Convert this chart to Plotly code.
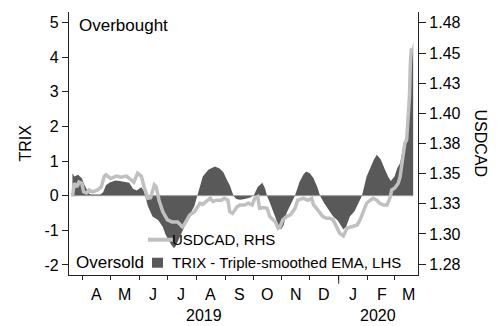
import pandas as pd
import plotly.graph_objects as go

# ---- data (days since 2019-04-01) ----
trix_days = [-11, -9, -5, -1, 2, 5, 7, 10, 19, 22, 25, 29, 35, 40, 45, 50, 54, 58, 63, 66,
             68, 70, 75, 81, 86, 89, 95, 98, 100, 105, 110, 115, 120, 123, 126, 129, 135, 139,
             142, 147, 151, 155, 158, 162, 165, 169, 174, 180, 184, 188, 193, 196, 198, 201,
             205, 210, 213, 216, 219, 224, 228, 233, 237, 240, 244, 248, 252, 255, 259, 264,
             269, 274, 280, 283, 287, 292, 296, 300, 305, 309, 313, 316, 320, 324, 328, 331,
             335, 338, 341, 344, 346, 348, 350, 352, 353, 355]
trix_vals = [0.65, 0.55, 0.6, 0.5, 0.3, 0.15, 0.05, 0.03, 0.03, 0.1, 0.3, 0.38, 0.44, 0.42, 0.4, 0.37,
             0.2, 0.15, 0.24, 0.12,
             -0.1, -0.3, -0.6, -0.7, -0.9, -1.12, -1.41, -1.52, -1.45, -1.15, -0.84, -0.55, -0.3,
             0.0, 0.3, 0.55, 0.75, 0.8, 0.84, 0.78, 0.68, 0.45, 0.3, 0.0, -0.1, -0.12, -0.1,
             -0.05, 0.02, 0.25, 0.37, 0.2, 0.0, -0.2, -0.5, -0.84, -0.98, -0.85, -0.5, -0.2,
             0.0, 0.4, 0.6, 0.7, 0.65, 0.5, 0.25, 0.0, -0.2, -0.4, -0.6, -0.72, -0.98, -0.9,
             -0.6, -0.45, -0.2, 0.0, 0.55, 0.8, 1.05, 1.18, 1.05, 0.8, 0.55, 0.42, 0.55, 0.8,
             0.94, 1.37, 1.61, 1.75, 2.1, 2.86, 3.82, 4.45]

usd_days = [-11, -9, -6, -4, -1, 1, 4, 7, 11, 16, 20, 23, 25, 30, 36, 41, 47, 52, 55, 59, 63,
            66, 70, 73, 77, 79, 82, 86, 91, 96, 102, 107, 109, 112, 115, 120, 126, 129, 134,
            137, 140, 144, 149, 152, 156, 158, 161, 166, 169, 174, 178, 182, 185, 188, 190,
            194, 198, 201, 207, 210, 212, 215, 219, 223, 228, 231, 237, 242, 246, 248, 251,
            255, 258, 262, 266, 269, 273, 276, 280, 284, 289, 295, 298, 301, 305, 309, 312,
            316, 319, 323, 327, 330, 332, 335, 339, 341, 343, 344, 346, 348, 349, 350, 351,
            352, 353, 354]
usd_vals = [1.331, 1.342, 1.339, 1.343, 1.342, 1.335, 1.334, 1.3365, 1.335, 1.3365, 1.339,
            1.3475, 1.349, 1.346, 1.348, 1.347, 1.348, 1.345, 1.343, 1.3503, 1.348, 1.339,
            1.3296, 1.330, 1.3406, 1.339, 1.328, 1.3185, 1.3117, 1.310, 1.310, 1.306, 1.3075,
            1.3117, 1.3158, 1.3185, 1.3255, 1.3245, 1.328, 1.3296, 1.327, 1.328, 1.328,
            1.3296, 1.328, 1.3185, 1.317, 1.3227, 1.324, 1.324, 1.3255, 1.324, 1.3296, 1.331,
            1.3214, 1.322, 1.3214, 1.3144, 1.310, 1.3048, 1.306, 1.3117, 1.3144, 1.3158,
            1.321, 1.328, 1.3296, 1.328, 1.3296, 1.324, 1.3214, 1.317, 1.3144, 1.313, 1.313,
            1.3117, 1.306, 1.3007, 1.2984, 1.3048, 1.306, 1.3075, 1.3117, 1.3185, 1.3255,
            1.328, 1.3296, 1.328, 1.3255, 1.324, 1.324, 1.3296, 1.3365, 1.3379, 1.342,
            1.3475, 1.3586, 1.364, 1.375, 1.378, 1.3917, 1.397, 1.4137, 1.4414, 1.4524, 1.4524]

month_letters = ["A", "M", "J", "J", "A", "S", "O", "N", "D", "J", "F", "M"]
month_starts = pd.date_range("2019-04-01", "2020-03-01", freq="MS")
left_ticks = [-2, -1, 0, 1, 2, 3, 4, 5]
right_ticks = [1.275, 1.300, 1.325, 1.350, 1.375, 1.400, 1.425, 1.450, 1.475]
right_text = ["1.28", "1.30", "1.33", "1.35", "1.38", "1.40", "1.43", "1.45", "1.48"]

base = pd.Timestamp("2019-04-01")
trix_x = [base + pd.Timedelta(days=d) for d in trix_days]
usd_x = [base + pd.Timedelta(days=d) for d in usd_days]

FONT = "Liberation Sans, Arial, sans-serif"
AREA = "#595959"
LINE = "#c0c0c0"
INK = "#000000"

fig = go.Figure()
fig.add_trace(go.Scatter(x=trix_x, y=trix_vals, mode="lines", fill="tozeroy",
                         fillcolor=AREA, line=dict(width=0, color=AREA),
                         showlegend=False, hoverinfo="skip"))
fig.add_trace(go.Scatter(x=[trix_x[0], trix_x[-1]], y=[0, 0], mode="lines",
                         line=dict(width=1, color="#9a9a9a"), showlegend=False))
fig.add_trace(go.Scatter(x=usd_x, y=usd_vals, mode="lines", yaxis="y2",
                         line=dict(width=3.5, color=LINE), showlegend=False))

# page geometry (the page body adds an 8px offset)
OFF = 8
W, H = 503 - OFF, 326 - OFF
PL, PR, PT, PB = 69, 418, 12, 275.3          # plot box in page pixels
L, T = PL - OFF, PT - OFF
R = W - (PR - OFF)
B = H - (PB - OFF)
pw, ph = PR - PL, PB - PT

def px(xp):
    return (xp - PL) / pw

def py(yp):
    return (PB - yp) / ph

fig.update_layout(
    width=W, height=H,
    margin=dict(l=L, r=R, t=T, b=B, pad=0),
    paper_bgcolor="white", plot_bgcolor="white",
    font=dict(family=FONT, size=16, color=INK),
    showlegend=False,
    xaxis=dict(range=[base + pd.Timedelta(days=-14.7), base + pd.Timedelta(days=360.2)],
               tickvals=list(month_starts), showticklabels=False,
               ticks="outside", ticklen=4, tickwidth=1, tickcolor="#222",
               showline=True, linecolor="#222", linewidth=1.3,
               showgrid=False, zeroline=False),
    yaxis=dict(range=[-2.29, 5.3], tickvals=left_ticks,
               ticktext=[str(v) for v in left_ticks],
               ticks="outside", ticklen=6, tickwidth=1, tickcolor="#222",
               showline=True, linecolor="#222", linewidth=1.3,
               showgrid=False, zeroline=False, tickfont=dict(size=16)),
    yaxis2=dict(range=[1.266, 1.484], overlaying="y", side="right",
                tickvals=right_ticks, ticktext=right_text,
                ticks="outside", ticklen=7, tickwidth=1, tickcolor="#222",
                showline=True, linecolor="#222", linewidth=1.3,
                showgrid=False, zeroline=False, tickfont=dict(size=16)),
)

ann = []
for d, lab in zip(month_starts, month_letters):
    mid = d + pd.Timedelta(days=15)
    ann.append(dict(x=mid, xref="x", y=py(295), yref="paper", text=lab,
                    showarrow=False, font=dict(size=16), xanchor="center", yanchor="middle"))
ann.append(dict(x=px(204), xref="paper", y=py(316), yref="paper", text="2019",
                showarrow=False, font=dict(size=16), xanchor="center", yanchor="middle"))
ann.append(dict(x=px(378), xref="paper", y=py(316), yref="paper", text="2020",
                showarrow=False, font=dict(size=16), xanchor="center", yanchor="middle"))
ann.append(dict(x=px(25), xref="paper", y=0.5, yref="paper", text="TRIX", textangle=-90,
                showarrow=False, font=dict(size=16), xanchor="center", yanchor="middle"))
ann.append(dict(x=px(480), xref="paper", y=0.5, yref="paper", text="USDCAD", textangle=90,
                showarrow=False, font=dict(size=16), xanchor="center", yanchor="middle"))
ann.append(dict(x=px(77), xref="paper", y=py(26), yref="paper", text="Overbought",
                showarrow=False, font=dict(size=17), xanchor="left", yanchor="middle"))
ann.append(dict(x=px(74), xref="paper", y=py(263), yref="paper", text="Oversold",
                showarrow=False, font=dict(size=17), xanchor="left", yanchor="middle"))
ann.append(dict(x=px(170), xref="paper", y=py(263), yref="paper",
                text="TRIX - Triple-smoothed EMA, LHS",
                showarrow=False, font=dict(size=15), xanchor="left", yanchor="middle"))
ann.append(dict(x=px(170), xref="paper", y=py(240), yref="paper", text="USDCAD, RHS",
                showarrow=False, font=dict(size=15), xanchor="left", yanchor="middle"))
fig.update_layout(annotations=ann)

shapes = [
    dict(type="rect", xref="paper", yref="paper", x0=px(152), x1=px(163), y0=py(268), y1=py(258),
         fillcolor=AREA, line=dict(width=0)),
    dict(type="line", xref="paper", yref="paper", x0=px(148), x1=px(173), y0=py(240), y1=py(240),
         line=dict(color=LINE, width=4)),
    dict(type="line", xref="x", yref="paper", x0=pd.Timestamp("2020-01-01"),
         x1=pd.Timestamp("2020-01-01"), y0=0, y1=py(284),
         line=dict(color="#222", width=1)),
]
fig.update_layout(shapes=shapes)

fig.write_html("out.html")
